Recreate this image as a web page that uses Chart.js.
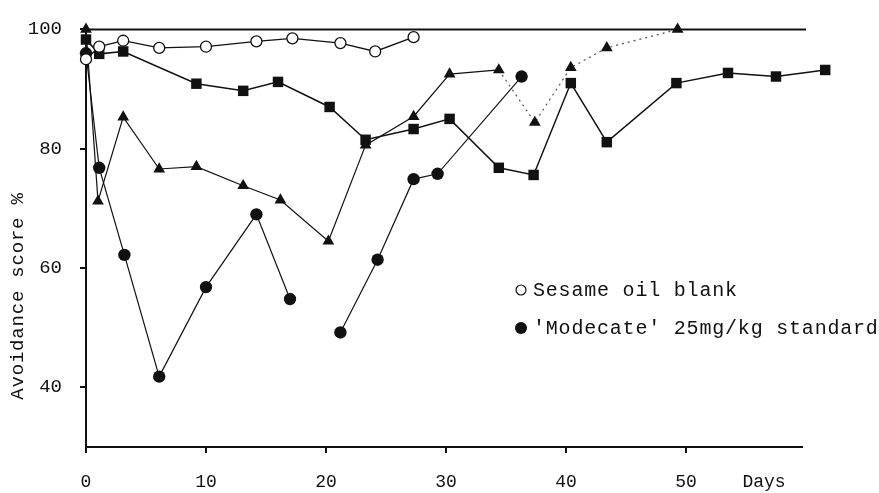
<!DOCTYPE html>
<html>
<head>
<meta charset="utf-8">
<script src="https://cdn.jsdelivr.net/npm/chart.js@4/dist/chart.umd.min.js"></script>
<style>
  html, body { margin: 0; padding: 0; background: #fff; }
  #wrap { width: 879px; height: 493px; }
</style>
</head>
<body>
<div id="wrap"><canvas id="c" width="879" height="493"></canvas></div>
<script>
// ---------------- data ----------------
const yTitle = "Avoidance score %";
const xUnitLabel = "Days";
const xTickValues = [0, 10, 20, 30, 40, 50];
const yTickValues = [40, 60, 80, 100];

const blankLabel = "Sesame oil blank";
const blankDays = [0, 1.1, 3.1, 6.1, 10.0, 14.2, 17.2, 21.2, 24.1, 27.3];
const blankVals = [95, 97.1, 98.1, 96.9, 97.1, 98.0, 98.5, 97.7, 96.3, 98.7];

const modecateLabel = "'Modecate' 25mg/kg standard";
const modecateDays = [0, 1.1, 3.2, 6.1, 10.0, 14.2, 17.0, 19.0, 21.2, 24.3, 27.3, 29.3, 36.3];
const modecateVals = [96, 76.8, 62.2, 41.8, 56.8, 69.0, 54.8, null, 49.2, 61.4, 74.9, 75.8, 92.1];

const triangleLabel = "Test compound (triangles)";
const triangleDays = [0, 1.0, 3.1, 6.1, 9.2, 13.1, 16.2, 20.2, 23.3, 27.3, 30.3, 34.4, 37.4, 40.4, 43.4, 49.3];
const triangleVals = [100, 71.2, 85.3, 76.6, 77.0, 73.8, 71.4, 64.5, 80.6, 85.4, 92.5, 93.2, 84.4, 93.6, 96.9, 100];

const squareLabel = "Test compound (squares)";
const squareDays = [0, 1.1, 3.1, 9.2, 13.1, 16.0, 20.3, 23.3, 27.3, 30.3, 34.4, 37.3, 40.4, 43.4, 49.2, 53.5, 57.5, 61.6];
const squareVals = [98.3, 95.9, 96.3, 90.9, 89.7, 91.2, 87.0, 81.5, 83.3, 85.0, 76.8, 75.6, 91.0, 81.1, 91.0, 92.7, 92.1, 93.2];

// ---------------- helpers ----------------
const INK = '#111';
const FONT = '"Liberation Mono", "DejaVu Sans Mono", monospace';
const X_MIN = 0, X_MAX = 62;     // scale range (last square lies past the drawn axis)
const AXIS_END_DAY = 60;         // the drawn axis / top rule stop here
const Y_MIN = 30, Y_MAX = 100;
const DAYS_TICK = 56.5;          // where the "Days" unit word sits on the x axis line
const DOTTED_FROM = 34;          // triangle segments after this day are dotted

function pairs(days, vals) {
  return days.map((d, i) => ({ x: d, y: vals[i] }));
}

const decor = {
  id: 'decor',
  beforeDatasetsDraw(chart) {
    const ctx = chart.ctx;
    const xs = chart.scales.x, ys = chart.scales.y;
    const x0 = xs.getPixelForValue(X_MIN) - 1;
    const x1 = xs.getPixelForValue(AXIS_END_DAY);
    ctx.save();
    ctx.strokeStyle = INK;
    ctx.lineWidth = 2;
    ctx.beginPath();
    ctx.moveTo(x0, ys.getPixelForValue(Y_MIN));
    ctx.lineTo(x1 - 3, ys.getPixelForValue(Y_MIN));
    ctx.moveTo(x0, ys.getPixelForValue(Y_MAX));
    ctx.lineTo(x1, ys.getPixelForValue(Y_MAX));
    ctx.stroke();
    ctx.restore();
  },
  afterDraw(chart) {
    const ctx = chart.ctx;
    ctx.save();
    ctx.fillStyle = INK;
    // y axis title
    ctx.font = '19px ' + FONT;
    if ('letterSpacing' in ctx) ctx.letterSpacing = '0.8px';
    ctx.translate(18, 296);
    ctx.rotate(-Math.PI / 2);
    ctx.textAlign = 'center';
    ctx.textBaseline = 'middle';
    ctx.fillText(yTitle, 0, 0);
    ctx.restore();

    // in-plot legend (first two series only)
    ctx.save();
    ctx.font = '20px ' + FONT;
    if ('letterSpacing' in ctx) ctx.letterSpacing = '0.8px';
    ctx.textBaseline = 'middle';
    ctx.textAlign = 'left';
    ctx.fillStyle = INK;
    const ds = chart.data.datasets;
    const items = [
      { label: ds[0].label, filled: false, y: 290 },
      { label: ds[1].label, filled: true, y: 328 }
    ];
    items.forEach(it => {
      ctx.beginPath();
      ctx.arc(521, it.y, it.filled ? 6 : 5, 0, Math.PI * 2);
      if (it.filled) { ctx.fillStyle = INK; ctx.fill(); }
      else { ctx.lineWidth = 1.2; ctx.strokeStyle = INK; ctx.stroke(); }
      ctx.fillStyle = INK;
      ctx.fillText(it.label, 533, it.y + 1);
    });
    ctx.restore();
  }
};

const chart = new Chart(document.getElementById('c'), {
  type: 'line',
  data: {
    datasets: [
      {
        label: blankLabel,
        data: pairs(blankDays, blankVals),
        borderColor: INK, borderWidth: 1.3,
        pointStyle: 'circle', pointRadius: 5.5,
        pointBackgroundColor: '#fff', pointBorderColor: INK, pointBorderWidth: 1.3,
        clip: false
      },
      {
        label: modecateLabel,
        data: pairs(modecateDays, modecateVals),
        borderColor: INK, borderWidth: 1.2,
        pointStyle: 'circle', pointRadius: 6.2,
        pointBackgroundColor: INK, pointBorderColor: INK, pointBorderWidth: 0,
        spanGaps: false,
        clip: false
      },
      {
        label: triangleLabel,
        data: pairs(triangleDays, triangleVals),
        borderColor: INK, borderWidth: 1.2,
        pointStyle: 'triangle', pointRadius: 6.8,
        pointBackgroundColor: INK, pointBorderColor: INK, pointBorderWidth: 0,
        segment: {
          borderDash: c => (c.p0.parsed.x >= DOTTED_FROM ? [2, 4] : undefined),
          borderColor: c => (c.p0.parsed.x >= DOTTED_FROM ? '#555' : INK)
        },
        clip: false
      },
      {
        label: squareLabel,
        data: pairs(squareDays, squareVals),
        borderColor: INK, borderWidth: 1.5,
        pointStyle: 'rect', pointRadius: 7.4,
        pointBackgroundColor: INK, pointBorderColor: INK, pointBorderWidth: 0,
        clip: false
      }
    ]
  },
  options: {
    responsive: false,
    devicePixelRatio: 1,
    animation: false,
    layout: { padding: { left: 0, top: 24, right: 49, bottom: 0 } },
    plugins: { legend: { display: false }, tooltip: { enabled: false } },
    elements: { line: { tension: 0 } },
    scales: {
      x: {
        type: 'linear', min: X_MIN, max: X_MAX,
        afterBuildTicks: s => { s.ticks = xTickValues.map(v => ({ value: v })).concat([{ value: DAYS_TICK }]); },
        afterFit: s => { s.height = 46; },
        border: { display: false },
        grid: {
          drawOnChartArea: false, drawTicks: true, tickLength: 6, lineWidth: 2,
          tickColor: c => (c.tick && c.tick.value === DAYS_TICK ? 'rgba(0,0,0,0)' : INK)
        },
        ticks: {
          autoSkip: false, maxRotation: 0, padding: 18, color: INK,
          font: { family: FONT, size: 18 },
          callback: v => (v === DAYS_TICK ? xUnitLabel : String(v))
        }
      },
      y: {
        type: 'linear', min: Y_MIN, max: Y_MAX,
        afterBuildTicks: s => { s.ticks = yTickValues.map(v => ({ value: v })); },
        afterFit: s => { s.width = 86; },
        border: { display: true, color: INK, width: 2 },
        grid: {
          drawOnChartArea: false, drawTicks: true, tickLength: 6, lineWidth: 2,
          tickColor: INK
        },
        ticks: {
          padding: 18, color: INK,
          font: { family: FONT, size: 19 },
          callback: v => String(v)
        }
      }
    }
  },
  plugins: [decor]
});
</script>
</body>
</html>
